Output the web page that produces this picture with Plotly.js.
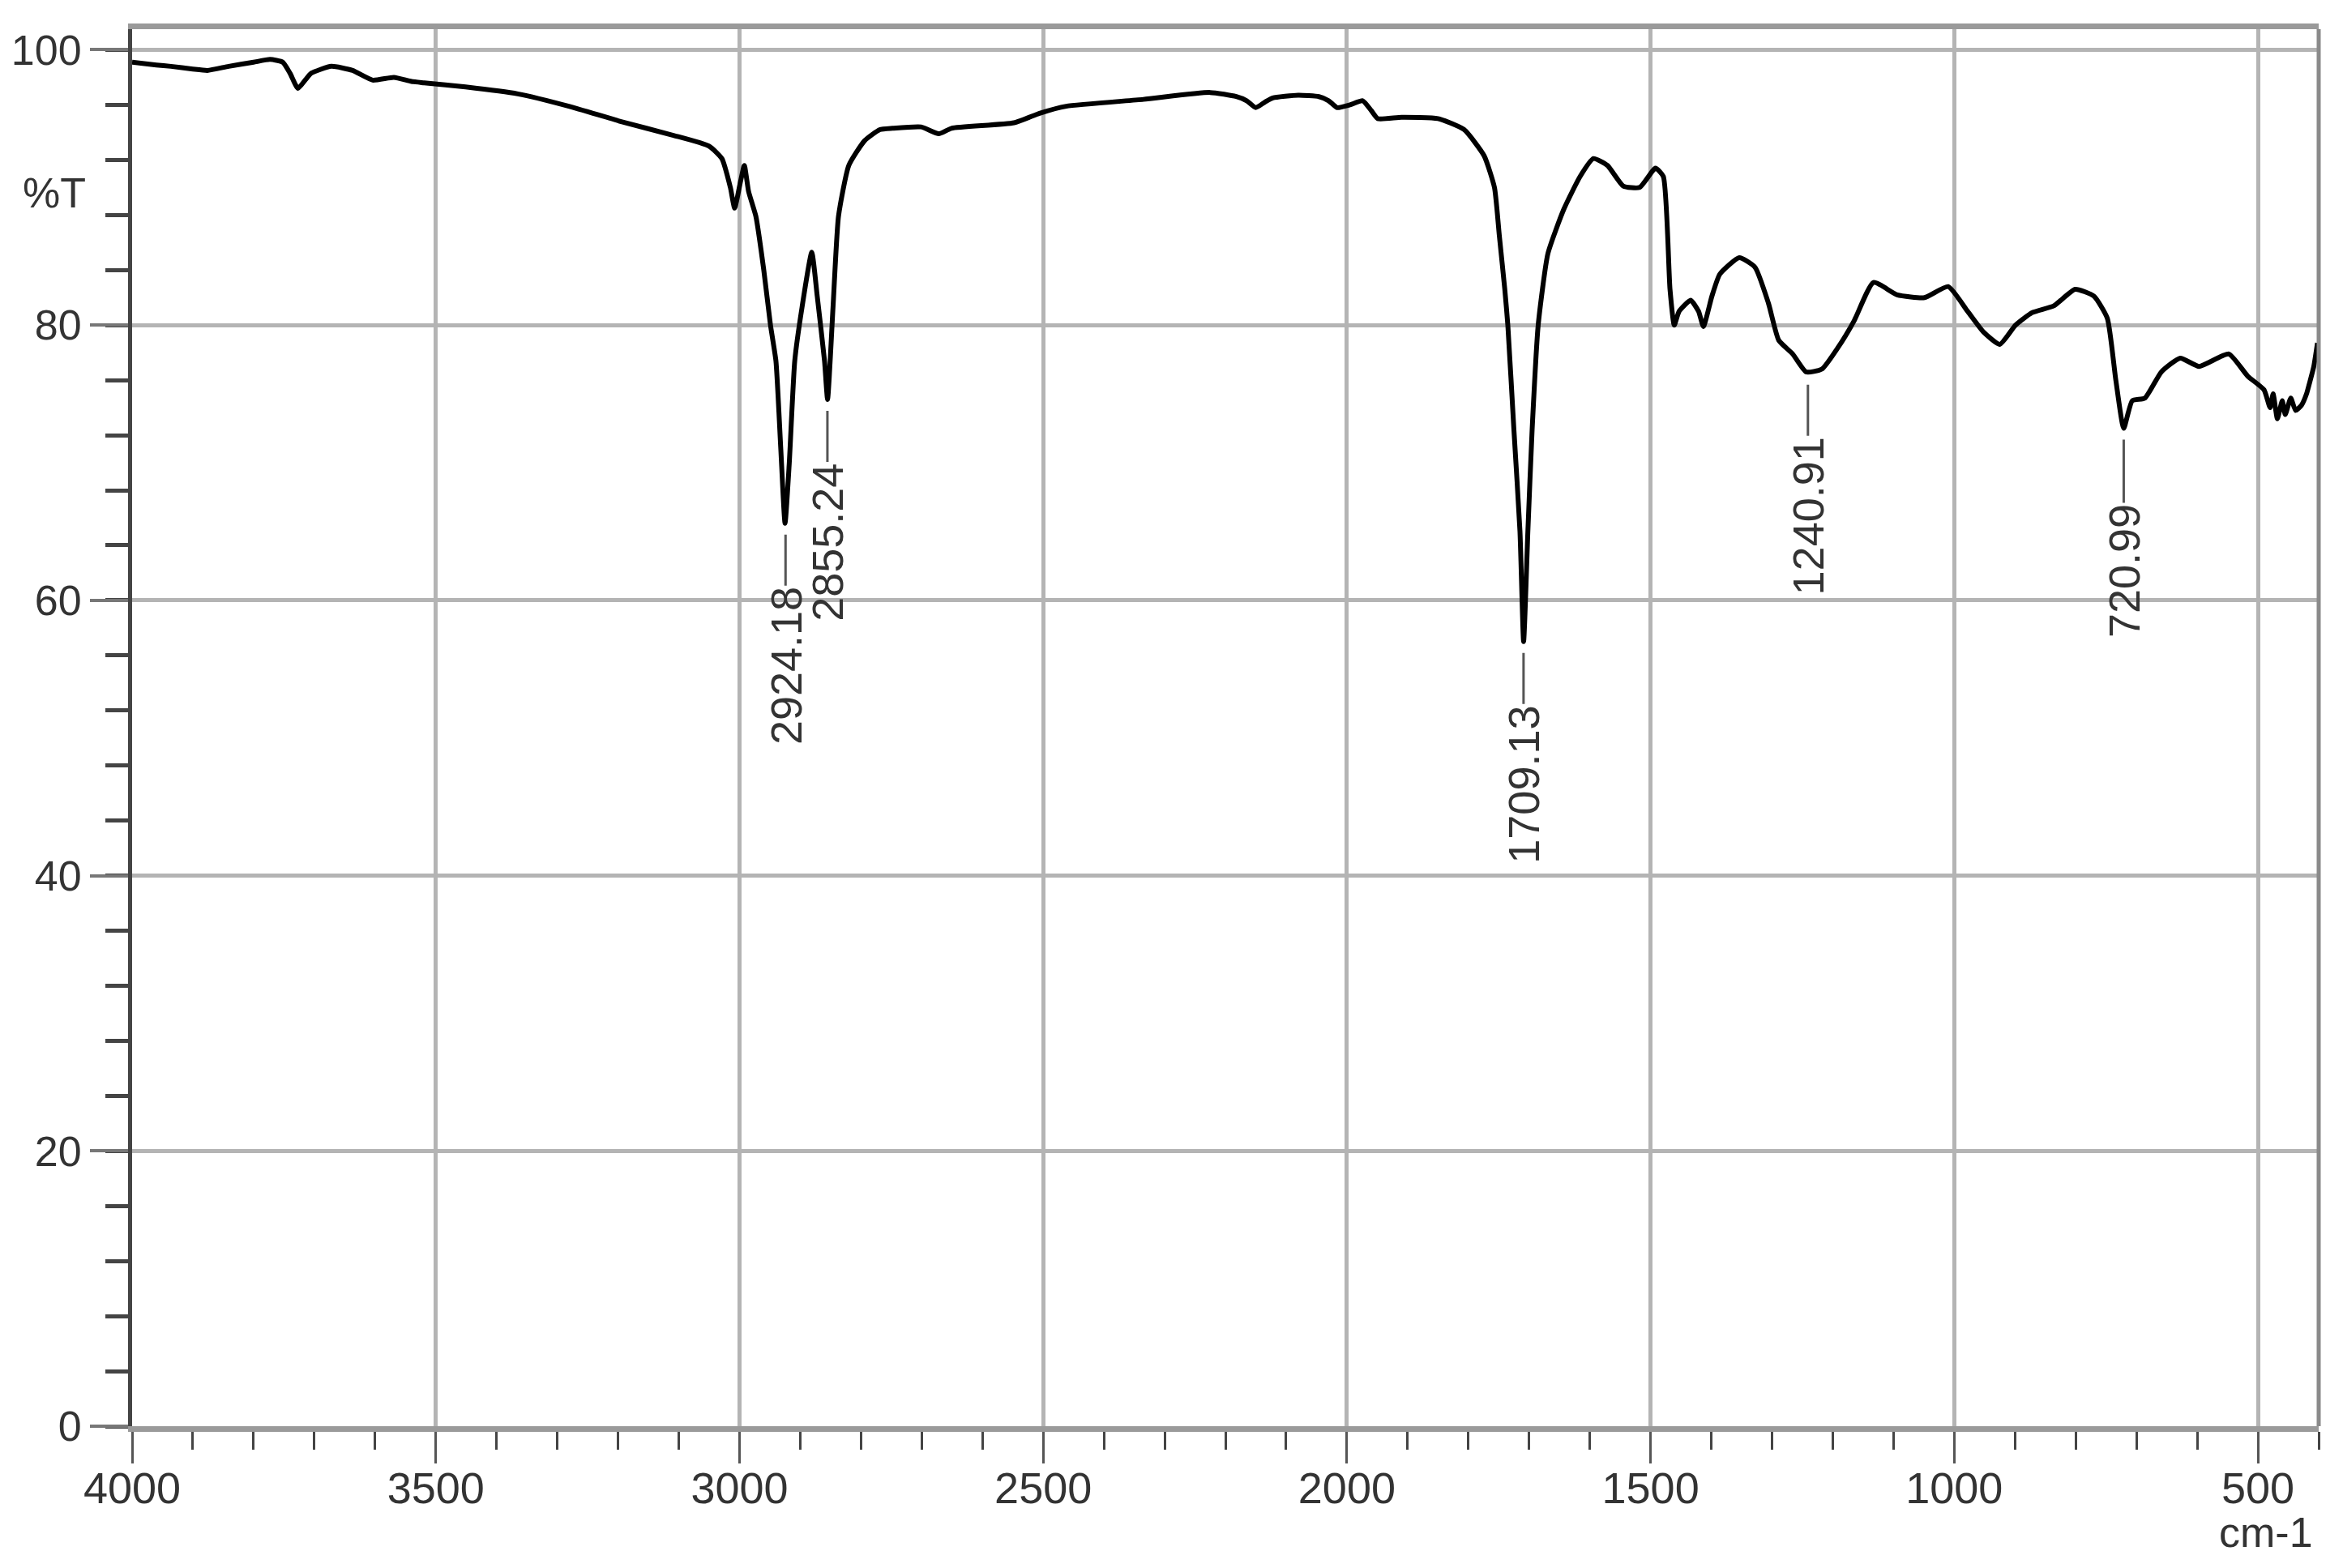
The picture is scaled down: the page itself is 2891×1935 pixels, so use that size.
<!DOCTYPE html>
<html>
<head>
<meta charset="utf-8">
<script src="https://cdn.plot.ly/plotly-3.0.1.min.js"></script>
<style>
html,body{margin:0;padding:0;background:#fff;}
#chart{width:2891px;height:1935px;}
</style>
</head>
<body>
<div id="chart"></div>
<script>
// Wavenumber (cm-1) and transmittance (%T)
const wavenumber = [4000,3960,3936,3900,3876,3841,3800,3773,3752,3740,3727,3715,3705,3672,3637,3604,3569,3540,3519,3451,3365,3281,3196,3110,3050,3029,3015,3008,2998,2992,2985,2973,2960,2949,2940,2932,2925,2918,2909,2897,2881,2872,2860,2855,2846,2837,2820,2794,2769,2748,2701,2672,2651,2548,2505,2462,2335,2225,2182,2165,2150,2135,2122,2080,2046,2030,2016,1995,1974,1960,1949,1910,1850,1807,1774,1757,1749,1740,1735,1725,1715,1709,1702,1695,1685,1669,1643,1616,1594,1571,1545,1518,1492,1479,1468,1461,1453,1434,1421,1413,1399,1386,1354,1328,1306,1289,1266,1244,1218,1191,1165,1133,1094,1049,1010,978,952,925,899,872,836,801,770,748,734,721,707,686,659,628,597,548,517,490,480,475,468,460,455,446,438,428,420,415,408,402];
const transmittance = [99.1,98.9,98.8,98.6,98.5,98.8,99.1,99.3,99.1,98.3,97.2,97.8,98.3,98.8,98.5,97.8,98.0,97.7,97.6,97.3,96.8,95.9,94.8,93.8,93.0,92.1,90.0,88.5,90.5,91.6,89.7,87.9,84.0,80.0,77.4,71.0,65.6,70.0,77.4,81.3,85.3,82.1,77.4,74.6,81.3,87.9,91.6,93.4,94.2,94.3,94.4,93.9,94.3,94.7,95.4,95.9,96.4,96.9,96.6,96.3,95.8,96.2,96.5,96.7,96.6,96.3,95.8,96.0,96.3,95.6,95.0,95.1,95.0,94.2,92.3,90.0,86.5,82.6,80.0,72.4,65.0,57.0,65.0,72.4,80.0,85.2,88.4,90.8,92.1,91.6,90.1,90.0,91.4,90.8,82.6,80.0,81.0,81.8,81.0,79.9,82.1,83.7,84.9,84.2,81.6,78.9,77.9,76.6,76.8,78.4,80.3,83.1,82.2,82.0,82.8,81.0,79.5,78.6,80.0,80.9,81.4,82.6,82.1,80.5,76.0,72.5,74.5,74.7,76.6,77.6,77.0,77.9,76.3,75.3,74.0,75.0,73.2,74.5,73.5,74.7,73.8,74.2,75.0,75.8,77.0,78.7];

// Labelled peaks
const peakWavenumber = [2924.18, 2855.24, 1709.13, 1240.91, 720.99];
const peakT = [65.6, 74.6, 57.0, 76.5, 72.5];
const peakLabels = ["2924.18", "2855.24", "1709.13", "1240.91", "720.99"];

const xTicks = [4000, 3500, 3000, 2500, 2000, 1500, 1000, 500];
const yTicks = [0, 20, 40, 60, 80, 100];

const FONT = "Liberation Sans, Arial, sans-serif";

const trace = {
  x: wavenumber,
  y: transmittance,
  type: "scatter",
  mode: "lines",
  line: {color: "#000000", width: 6, shape: "spline", smoothing: 0.5},
  hoverinfo: "skip"
};

const annotations = peakWavenumber.map((w, i) => ({
  x: w, y: peakT[i], xref: "x", yref: "y",
  text: peakLabels[i],
  textangle: -90,
  showarrow: true, arrowhead: 0, arrowwidth: 3, arrowcolor: "#555555",
  ax: 0, ay: 176, standoff: 14,
  font: {family: FONT, size: 54, color: "#333333"}
}));
annotations.push({
  x: -0.0356, y: 0.883, xref: "paper", yref: "paper",
  text: "%T", showarrow: false, xanchor: "center", yanchor: "middle",
  font: {family: FONT, size: 52, color: "#333333"}
});
annotations.push({
  x: 0.998, y: -0.076, xref: "paper", yref: "paper",
  text: "cm-1", showarrow: false, xanchor: "right", yanchor: "middle",
  font: {family: FONT, size: 52, color: "#333333"}
});

const layout = {
  width: 2891, height: 1935,
  margin: {l: 163, r: 30, t: 36, b: 175},
  paper_bgcolor: "#ffffff", plot_bgcolor: "#ffffff",
  showlegend: false,
  xaxis: {
    range: [4000, 400],
    tickvals: xTicks, ticktext: xTicks.map(String),
    ticks: "outside", ticklen: 39, tickwidth: 3, tickcolor: "#555555",
    ticklabelstandoff: -16,
    minor: {dtick: 100, tick0: 0, ticks: "outside", ticklen: 22, tickwidth: 3, tickcolor: "#444444", showgrid: false},
    showgrid: true, gridcolor: "#b4b4b4", gridwidth: 5,
    showline: true, linecolor: "#9a9a9a", linewidth: 7, mirror: true,
    zeroline: false,
    tickfont: {family: FONT, size: 54, color: "#333333"}
  },
  yaxis: {
    range: [0, 101.5],
    tickvals: yTicks, ticktext: yTicks.map(String),
    ticks: "outside", ticklen: 47, tickwidth: 4, tickcolor: "#777777",
    minor: {dtick: 4, tick0: 0, ticks: "outside", ticklen: 28, tickwidth: 5, tickcolor: "#444444", showgrid: false},
    showgrid: true, gridcolor: "#b4b4b4", gridwidth: 5,
    showline: true, linecolor: "#444444", linewidth: 5, mirror: false,
    zeroline: false,
    tickfont: {family: FONT, size: 52, color: "#333333"}
  },
  shapes: [
    {type: "line", xref: "x", yref: "paper", x0: 2000, x1: 2000, y0: 0, y1: 1, line: {color: "#555555", width: 3}, layer: "below"},
    {type: "line", xref: "paper", yref: "paper", x0: 1, x1: 1, y0: 0, y1: 1, line: {color: "#8a8a8a", width: 5}}
  ],
  annotations: annotations
};

Plotly.newPlot("chart", [trace], layout, {staticPlot: true, displayModeBar: false});
</script>
</body>
</html>
